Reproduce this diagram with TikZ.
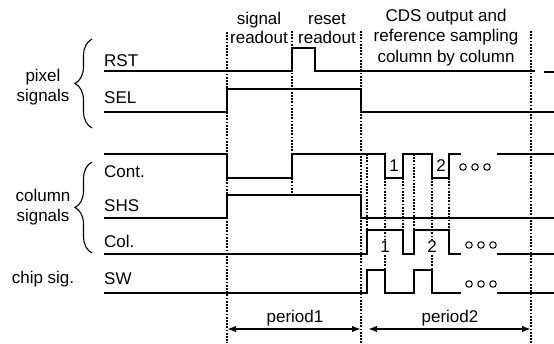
\documentclass[tikz,border=0pt]{standalone}
\usepackage{fontspec}
\setmainfont{Liberation Sans}
\usetikzlibrary{arrows.meta,decorations.pathreplacing}
\begin{document}
\begin{tikzpicture}[x=1pt,y=-1pt,
  lab/.style={font=\fontsize{17}{20.5}\selectfont, inner sep=0pt},
  sig/.style={line width=1.25pt, line join=miter},
  sigb/.style={line width=1.7pt, line join=miter},
  vdot/.style={line width=1.9pt, dash pattern=on 1.7pt off 1.5pt},
  dim/.style={line width=1.5pt, {Latex[length=9pt,width=6.5pt]}-{Latex[length=9pt,width=6.5pt]}},
  dots/.style={circle, draw, line width=1pt, minimum size=6.5pt, inner sep=0pt},
  brc/.style={decorate, decoration={brace, amplitude=17pt}, line width=1.1pt},
]
\useasboundingbox (0,0) rectangle (554,343);

% main dotted guides
\coordinate (g1t) at (227,32);  \coordinate (g1b) at (227,343);
\coordinate (g2t) at (292,31);  \coordinate (g2b) at (292,195);
\coordinate (g3t) at (361,31);  \coordinate (g3b) at (361,343);
\coordinate (g4t) at (531,31);  \coordinate (g4b) at (531,343);
% secondary dotted guides
\coordinate (h1t) at (367,154); \coordinate (h1b) at (367,230);
\coordinate (h2t) at (385,178); \coordinate (h2b) at (385,270);
\coordinate (h3t) at (403,178); \coordinate (h3b) at (403,230);
\coordinate (h4t) at (414,154); \coordinate (h4b) at (414,230);
\coordinate (h5t) at (432,178); \coordinate (h5b) at (432,270);
\coordinate (h6t) at (449,178); \coordinate (h6b) at (449,230);
\foreach \n in {g1,g2,g3,g4,h1,h2,h3,h4,h5,h6}
  \draw[vdot] (\n t) -- (\n b);

% waveforms
\draw[sig] (104,71) -- (292,71) -- (292,48) -- (315,48) -- (315,71) -- (535,71);
\draw[sig] (544,72) -- (554,72);
\draw[sigb] (104,112) -- (227,112) -- (227,89) -- (361,89) -- (361,112) -- (554,112);
\draw[sig] (104,154) -- (227,154) -- (227,178) -- (292,178) -- (292,154) -- (385,154)
  -- (385,178) -- (403,178) -- (403,154) -- (432,154) -- (432,178) -- (449,178) -- (449,154) -- (461,154);
\draw[sig] (497,154) -- (554,154);
\draw[sigb] (104,218) -- (227,218) -- (227,195) -- (361,195) -- (361,218) -- (554,218);
\draw[sig] (104,254) -- (367,254) -- (367,230) -- (403,230) -- (403,254) -- (414,254)
  -- (414,230) -- (449,230) -- (449,254) -- (461,254);
\draw[sig] (497,254) -- (554,254);
\draw[sig] (104,293) -- (367,293) -- (367,270) -- (385,270) -- (385,293) -- (414,293)
  -- (414,270) -- (432,270) -- (432,293) -- (461,293);
\draw[sig] (497,293) -- (554,293);

% braces
\coordinate (b1a) at (92,128); \coordinate (b1b) at (92,39);
\coordinate (b2a) at (92,253); \coordinate (b2b) at (92,162);
\draw[brc] (b1a) -- (b1b);
\draw[brc] (b2a) -- (b2b);

% signal names
\node[lab, anchor=base west] (nRST)  at (104,66.7)  {RST};
\node[lab, anchor=base west] (nSEL)  at (104,103.3) {SEL};
\node[lab, anchor=base west] (nCont) at (104,177)   {Cont.};
\node[lab, anchor=base west] (nSHS)  at (104,211.7) {SHS};
\node[lab, anchor=base west] (nCol)  at (104,247.3) {Col.};
\node[lab, anchor=base west] (nSW)   at (104,284)   {SW};

% group labels
\node[lab, align=center, anchor=north, font=\fontsize{17}{20}\selectfont] (pix) at (43,67.5) {\strut pixel\\signals};
\node[lab, align=center, anchor=north] (colsig) at (43,186.65) {\strut column\\signals};
\node[lab, anchor=base] (chip) at (43,283.5) {chip sig.};

% top labels
\node[lab, align=center, anchor=north, font=\fontsize{17}{19}\selectfont] (sigro) at (259,10.7) {\strut signal\\readout};
\node[lab, align=center, anchor=north, font=\fontsize{17}{19}\selectfont] (rstro) at (327,10.7) {\strut reset\\readout};
\node[lab, align=center, anchor=north] (cds) at (446,6.65) {\strut CDS output and\\reference sampling\\column by column};

% pulse numbers
\node[lab, anchor=base] (c1) at (394,171.7) {1};
\node[lab, anchor=base] (c2) at (441,171.7) {2};
\node[lab, anchor=base, fill=white, inner sep=1pt] (k1) at (385,252.5) {1};
\node[lab, anchor=base, fill=white, inner sep=1pt] (k2) at (432,252.5) {2};

% continuation circles
\foreach \x [count=\i] in {463,475,487} \node[dots] (oa\i) at (\x,167) {};
\foreach \x [count=\i] in {469,481,493} \node[dots] (ob\i) at (\x,245) {};
\foreach \x [count=\i] in {469,481,493} \node[dots] (oc\i) at (\x,284) {};

% periods
\coordinate (p1l) at (227,329); \coordinate (p1r) at (361,329);
\coordinate (p2l) at (368,329); \coordinate (p2r) at (531,329);
\draw[dim] (p1l) -- (p1r);
\draw[dim] (p2l) -- (p2r);
\node[lab, anchor=base] (per1) at (295,322.5) {period1};
\node[lab, anchor=base] (per2) at (450,322.5) {period2};
\end{tikzpicture}
\end{document}
